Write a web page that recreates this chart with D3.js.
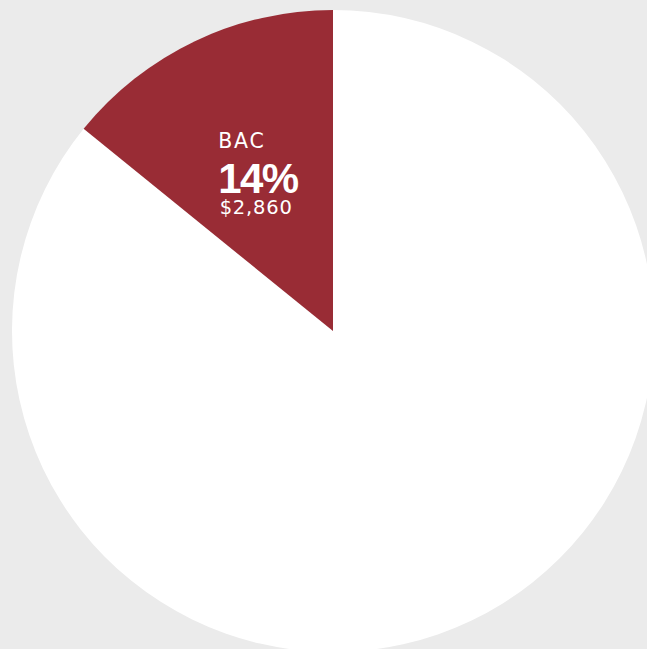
<!DOCTYPE html>
<html>
<head>
<meta charset="utf-8">
<script src="https://cdn.jsdelivr.net/npm/d3@7"></script>
<style>
  html, body { margin: 0; padding: 0; background: #ebebeb; overflow: hidden; }
  svg { display: block; }
</style>
</head>
<body>
<svg id="chart" width="647" height="649"></svg>
<script>
// Share of total spend
const categories = ["Other", "BAC"];
const values = [17340, 2860];
const percentLabels = ["", "14%"];
const amountLabels = ["", "$2,860"];
const colors = ["#ffffff", "#992c35"];

const width = 647, height = 649;
const cx = 333, cy = 331, radius = 321;

const svg = d3.select("#chart");
const g = svg.append("g").attr("transform", `translate(${cx},${cy})`);

const data = categories.map((c, i) => ({
  name: c, value: values[i], pct: percentLabels[i], amount: amountLabels[i], color: colors[i]
}));

const pie = d3.pie().sort(null).value(d => d.value);
const arc = d3.arc().innerRadius(0).outerRadius(radius);
const labelArc = d3.arc().innerRadius(radius * 0.56).outerRadius(radius * 0.56);

const arcs = pie(data);

g.selectAll("path.slice")
  .data(arcs)
  .join("path")
  .attr("class", "slice")
  .attr("d", arc)
  .attr("fill", d => d.data.color);

// Label only the highlighted slice
const hl = arcs.filter(d => d.data.name === "BAC");
const lab = g.selectAll("g.label")
  .data(hl)
  .join("g")
  .attr("class", "label")
  .attr("transform", d => {
    const [x, y] = labelArc.centroid(d);
    return `translate(${x - 37.5},${y})`;
  })
  .attr("fill", "#ffffff");

lab.append("text")
  .attr("x", 0).attr("y", -20.5)
  .attr("font-family", "'DejaVu Sans', sans-serif")
  .attr("font-size", 20.5)
  .attr("letter-spacing", 1.8)
  .text(d => d.data.name);

lab.append("text")
  .attr("x", 0).attr("y", 24.5)
  .attr("font-family", "'Liberation Sans', Arial, sans-serif")
  .attr("font-size", 42)
  .attr("font-weight", "bold")
  .attr("letter-spacing", -1.5)
  .text(d => d.data.pct);

lab.append("text")
  .attr("x", 1.5).attr("y", 45)
  .attr("font-family", "'DejaVu Sans', sans-serif")
  .attr("font-size", 19.5)
  .attr("letter-spacing", 0.8)
  .text(d => d.data.amount);
</script>
</body>
</html>
